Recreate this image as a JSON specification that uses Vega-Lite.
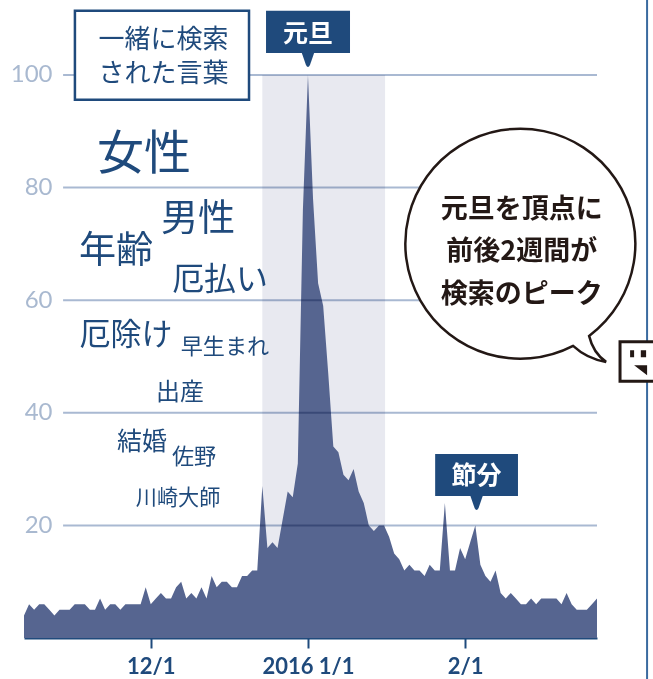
{
  "$schema": "https://vega.github.io/schema/vega-lite/v6.json",
  "width": 573,
  "height": 638,
  "autosize": "none",
  "padding": {"left": 24, "top": 0, "right": 56, "bottom": 41},
  "background": "white",
  "config": {
    "view": {"stroke": null},
    "text": {"font": "Noto Sans CJK JP"}
  },
  "datasets": {
    "trend": [
      {"date":"2015-11-06","score":4},{"date":"2015-11-07","score":6},{"date":"2015-11-08","score":5},{"date":"2015-11-09","score":6},{"date":"2015-11-10","score":6},
      {"date":"2015-11-11","score":5},{"date":"2015-11-12","score":4},{"date":"2015-11-13","score":5},{"date":"2015-11-14","score":5},{"date":"2015-11-15","score":5},
      {"date":"2015-11-16","score":6},{"date":"2015-11-17","score":6},{"date":"2015-11-18","score":6},{"date":"2015-11-19","score":5},{"date":"2015-11-20","score":5},
      {"date":"2015-11-21","score":7},{"date":"2015-11-22","score":5},{"date":"2015-11-23","score":6},{"date":"2015-11-24","score":6},{"date":"2015-11-25","score":5},
      {"date":"2015-11-26","score":6},{"date":"2015-11-27","score":6},{"date":"2015-11-28","score":6},{"date":"2015-11-29","score":6},{"date":"2015-11-30","score":9},
      {"date":"2015-12-01","score":6},{"date":"2015-12-02","score":7},{"date":"2015-12-03","score":8},{"date":"2015-12-04","score":7},{"date":"2015-12-05","score":7},
      {"date":"2015-12-06","score":9},{"date":"2015-12-07","score":10},{"date":"2015-12-08","score":7},{"date":"2015-12-09","score":8},{"date":"2015-12-10","score":7},
      {"date":"2015-12-11","score":9},{"date":"2015-12-12","score":7},{"date":"2015-12-13","score":11},{"date":"2015-12-14","score":9},{"date":"2015-12-15","score":10},
      {"date":"2015-12-16","score":10},{"date":"2015-12-17","score":9},{"date":"2015-12-18","score":9},{"date":"2015-12-19","score":11},{"date":"2015-12-20","score":11},
      {"date":"2015-12-21","score":12},{"date":"2015-12-22","score":12},{"date":"2015-12-23","score":27},{"date":"2015-12-24","score":16},{"date":"2015-12-25","score":17},
      {"date":"2015-12-26","score":16},{"date":"2015-12-27","score":21},{"date":"2015-12-28","score":26},{"date":"2015-12-29","score":25},{"date":"2015-12-30","score":31},
      {"date":"2015-12-31","score":76},{"date":"2016-01-01","score":100},{"date":"2016-01-02","score":78},{"date":"2016-01-03","score":63},{"date":"2016-01-04","score":59},
      {"date":"2016-01-05","score":47},{"date":"2016-01-06","score":34},{"date":"2016-01-07","score":33},{"date":"2016-01-08","score":29},{"date":"2016-01-09","score":28},
      {"date":"2016-01-10","score":30},{"date":"2016-01-11","score":26},{"date":"2016-01-12","score":24},{"date":"2016-01-13","score":20},{"date":"2016-01-14","score":19},
      {"date":"2016-01-15","score":20},{"date":"2016-01-16","score":20},{"date":"2016-01-17","score":18},{"date":"2016-01-18","score":15},{"date":"2016-01-19","score":14},
      {"date":"2016-01-20","score":12},{"date":"2016-01-21","score":13},{"date":"2016-01-22","score":12},{"date":"2016-01-23","score":12},{"date":"2016-01-24","score":11},
      {"date":"2016-01-25","score":13},{"date":"2016-01-26","score":12},{"date":"2016-01-27","score":12},{"date":"2016-01-28","score":24},{"date":"2016-01-29","score":12},
      {"date":"2016-01-30","score":12},{"date":"2016-01-31","score":16},{"date":"2016-02-01","score":14},{"date":"2016-02-02","score":17},{"date":"2016-02-03","score":20},
      {"date":"2016-02-04","score":13},{"date":"2016-02-05","score":11},{"date":"2016-02-06","score":10},{"date":"2016-02-07","score":12},{"date":"2016-02-08","score":8},
      {"date":"2016-02-09","score":7},{"date":"2016-02-10","score":8},{"date":"2016-02-11","score":7},{"date":"2016-02-12","score":6},{"date":"2016-02-13","score":6},
      {"date":"2016-02-14","score":7},{"date":"2016-02-15","score":6},{"date":"2016-02-16","score":7},{"date":"2016-02-17","score":7},{"date":"2016-02-18","score":7},
      {"date":"2016-02-19","score":7},{"date":"2016-02-20","score":6},{"date":"2016-02-21","score":8},{"date":"2016-02-22","score":6},{"date":"2016-02-23","score":5},
      {"date":"2016-02-24","score":5},{"date":"2016-02-25","score":5},{"date":"2016-02-26","score":6},{"date":"2016-02-27","score":7}
    ],
    "gridlines": [
      {"level":20,"from":"2015-11-13T17:00:00Z","to":"2016-02-27T00:00:00Z"},
      {"level":40,"from":"2015-11-13T17:00:00Z","to":"2016-02-27T00:00:00Z"},
      {"level":60,"from":"2015-11-13T17:00:00Z","to":"2016-02-27T00:00:00Z"},
      {"level":80,"from":"2015-11-13T17:00:00Z","to":"2016-02-27T00:00:00Z"},
      {"level":100,"from":"2015-11-13T17:00:00Z","to":"2016-02-27T00:00:00Z"}
    ],
    "words": [
      {"word":"女性","at":"2015-11-29T16:00:00Z","y":85.8,"weight":100},
      {"word":"男性","at":"2015-12-10T08:00:00Z","y":74.2,"weight":79},
      {"word":"年齢","at":"2015-11-24T04:00:00Z","y":68.5,"weight":79},
      {"word":"厄払い","at":"2015-12-14T16:00:00Z","y":63.5,"weight":68},
      {"word":"厄除け","at":"2015-11-26T03:00:00Z","y":53.6,"weight":66},
      {"word":"早生まれ","at":"2015-12-15T15:00:00Z","y":51.6,"weight":47},
      {"word":"出産","at":"2015-12-06T18:00:00Z","y":43.6,"weight":51},
      {"word":"結婚","at":"2015-11-29T06:00:00Z","y":34.7,"weight":53},
      {"word":"佐野","at":"2015-12-09T13:00:00Z","y":32.2,"weight":47},
      {"word":"川崎大師","at":"2015-12-06T09:00:00Z","y":24.7,"weight":45}
    ],
    "flags": [
      {"label":"元旦","left":"2015-12-23T17:30:00Z","right":"2016-01-09T07:00:00Z","top":111.4,"bottom":103.9,"at":"2016-01-01T00:00:00Z","textY":107.3},
      {"label":"節分","left":"2016-01-26T02:00:00Z","right":"2016-02-11T10:00:00Z","top":32.7,"bottom":25.2,"at":"2016-02-03T06:00:00Z","textY":28.7}
    ],
    "boxTitle": [
      {"line":"一緒に検索","at":"2015-12-03T12:00:00Z","y":106.3},
      {"line":"された言葉","at":"2015-12-03T12:00:00Z","y":100.1}
    ],
    "bubbleText": [
      {"line":"元旦を頂点に","at":"2016-02-12T04:00:00Z","y":76.1},
      {"line":"前後2週間が","at":"2016-02-12T04:00:00Z","y":68.6},
      {"line":"検索のピーク","at":"2016-02-12T04:00:00Z","y":61.0}
    ]
  },
  "layer": [
    {
      "description": "Page rule on the right",
      "data": {"values": [{"at":"2016-03-07T21:00:00Z","top":113.4,"bottom":-7.4}]},
      "mark": {"type": "rule", "color": "#3a6a9f", "strokeWidth": 2},
      "encoding": {
        "x": {"field": "at", "type": "temporal", "scale": {"type": "utc"}},
        "y": {"field": "top", "type": "quantitative"},
        "y2": {"field": "bottom"}
      }
    },
    {
      "description": "New Year search window",
      "data": {"values": [{"start":"2015-12-23T00:00:00Z","end":"2016-01-16T05:00:00Z","low":0,"high":100}]},
      "mark": {"type": "rect", "color": "#e8e9f0"},
      "encoding": {
        "x": {"field": "start", "type": "temporal", "scale": {"type": "utc"}},
        "x2": {"field": "end"},
        "y": {"field": "low", "type": "quantitative"},
        "y2": {"field": "high"}
      }
    },
    {
      "description": "Daily search interest",
      "data": {"name": "trend"},
      "mark": {"type": "area", "color": "#566590", "interpolate": "linear"},
      "encoding": {
        "x": {
          "field": "date",
          "type": "temporal",
          "scale": {
            "type": "utc",
            "domain": [
              {"year": 2015, "month": 11, "date": 6, "utc": true},
              {"year": 2016, "month": 2, "date": 27, "utc": true}
            ]
          },
          "axis": {
            "title": null,
            "grid": false,
            "values": [
              {"year": 2015, "month": 12, "date": 1, "utc": true},
              {"year": 2016, "month": 1, "date": 1, "utc": true},
              {"year": 2016, "month": 2, "date": 1, "utc": true}
            ],
            "labelExpr": "utcmonth(datum.value) == 0 ? '2016 1/1' : (utcmonth(datum.value) + 1) + '/1'",
            "domainColor": "#1f4a7c",
            "domainWidth": 2,
            "tickColor": "#1f4a7c",
            "tickWidth": 2,
            "tickSize": 10,
            "labelColor": "#1f4a7c",
            "labelFont": "Lato",
            "labelFontWeight": "bold",
            "labelFontSize": 22,
            "labelPadding": 8,
            "labelOverlap": false
          }
        },
        "y": {
          "field": "score",
          "type": "quantitative",
          "scale": {"domain": [0, 113.32], "nice": false, "zero": false},
          "axis": {
            "title": null,
            "grid": false,
            "domain": false,
            "ticks": false,
            "values": [20, 40, 60, 80, 100],
            "labelColor": "#a9b9d0",
            "labelFont": "Lato",
            "labelFontSize": 24,
            "labelPadding": -28
          }
        }
      }
    },
    {
      "description": "Horizontal guide lines, darkened where they cross the area",
      "data": {"name": "gridlines"},
      "mark": {"type": "rule", "color": "#a9b9d2", "strokeWidth": 2, "blend": "multiply"},
      "encoding": {
        "x": {"field": "from", "type": "temporal", "scale": {"type": "utc"}},
        "x2": {"field": "to"},
        "y": {"field": "level", "type": "quantitative"}
      }
    },
    {
      "description": "Frame of the related-words heading",
      "data": {"values": [{"left":"2015-11-16T01:00:00Z","right":"2015-12-20T09:00:00Z","top":111.4,"bottom":95.6}]},
      "mark": {"type": "rect", "fill": "white", "stroke": "#1f4a7c", "strokeWidth": 2.5},
      "encoding": {
        "x": {"field": "left", "type": "temporal", "scale": {"type": "utc"}},
        "x2": {"field": "right"},
        "y": {"field": "top", "type": "quantitative"},
        "y2": {"field": "bottom"}
      }
    },
    {
      "data": {"name": "boxTitle"},
      "mark": {"type": "text", "color": "#1f4a7c", "fontSize": 26, "align": "center", "baseline": "middle"},
      "encoding": {
        "x": {"field": "at", "type": "temporal", "scale": {"type": "utc"}},
        "y": {"field": "y", "type": "quantitative"},
        "text": {"field": "line"}
      }
    },
    {
      "description": "Related search words, sized by how often they occur",
      "data": {"name": "words"},
      "mark": {"type": "text", "color": "#1f4a7c", "align": "center", "baseline": "middle"},
      "encoding": {
        "x": {"field": "at", "type": "temporal", "scale": {"type": "utc"}},
        "y": {"field": "y", "type": "quantitative"},
        "text": {"field": "word"},
        "size": {"field": "weight", "type": "quantitative", "legend": null, "scale": {"domain": [0, 100], "range": [0, 47]}}
      }
    },
    {
      "description": "Dark flags naming the two peaks, each with a rounded pointer below its box",
      "data": {"name": "flags"},
      "layer": [
        {
          "mark": {"type": "point", "filled": true, "opacity": 1, "color": "#1f4a7c", "size": 4, "shape": "M-6.5,-1 L6.5,-1 L2,12 Q0,16 -2,12 Z"},
          "encoding": {
            "x": {"field": "at", "type": "temporal", "scale": {"type": "utc"}},
            "y": {"field": "bottom", "type": "quantitative"}
          }
        },
        {
          "mark": {"type": "rect", "color": "#1f4a7c"},
          "encoding": {
            "x": {"field": "left", "type": "temporal", "scale": {"type": "utc"}},
            "x2": {"field": "right"},
            "y": {"field": "top", "type": "quantitative"},
            "y2": {"field": "bottom"}
          }
        },
        {
          "mark": {"type": "text", "color": "white", "fontWeight": "bold", "fontSize": 25, "align": "center", "baseline": "middle"},
          "encoding": {
            "x": {"field": "at", "type": "temporal", "scale": {"type": "utc"}},
            "y": {"field": "textY", "type": "quantitative"},
            "text": {"field": "label"}
          }
        }
      ]
    },
    {
      "description": "Speech bubble: a circle with a curled tail, path units are pixels at size 4",
      "data": {"values": [{"at":"2016-02-11T20:00:00Z","y":70.0}]},
      "mark": {
        "type": "point",
        "filled": false,
        "opacity": 1,
        "fill": "white",
        "fillOpacity": 1,
        "stroke": "#231815",
        "strokeWidth": 2.5,
        "size": 4,
        "shape": "M69,92 A115,115 0 1 0 53,102 Q67,115 86,118 Q73,109 69,92 Z"
      },
      "encoding": {
        "x": {"field": "at", "type": "temporal", "scale": {"type": "utc"}},
        "y": {"field": "y", "type": "quantitative"}
      }
    },
    {
      "data": {"name": "bubbleText"},
      "mark": {"type": "text", "color": "#231815", "fontWeight": "bold", "fontSize": 27, "align": "center", "baseline": "middle"},
      "encoding": {
        "x": {"field": "at", "type": "temporal", "scale": {"type": "utc"}},
        "y": {"field": "y", "type": "quantitative"},
        "text": {"field": "line"}
      }
    },
    {
      "description": "Page-corner icon frame",
      "data": {"values": [{"left":"2016-03-02T13:00:00Z","right":"2016-03-12T00:00:00Z","top":52.6,"bottom":45.6}]},
      "mark": {"type": "rect", "fill": "white", "stroke": "#231815", "strokeWidth": 3},
      "encoding": {
        "x": {"field": "left", "type": "temporal", "scale": {"type": "utc"}},
        "x2": {"field": "right"},
        "y": {"field": "top", "type": "quantitative"},
        "y2": {"field": "bottom"}
      }
    },
    {
      "description": "Page-corner icon glyph",
      "data": {"values": [{"at":"2016-03-06T12:00:00Z","y":49.0}]},
      "mark": {
        "type": "point",
        "filled": true,
        "opacity": 1,
        "color": "#231815",
        "size": 4,
        "shape": "M-10,-12 H-6 V-5 H-10 Z M0.7,-12 H6 V-5 H0.7 Z M-6,3 H7 V13 Z"
      },
      "encoding": {
        "x": {"field": "at", "type": "temporal", "scale": {"type": "utc"}},
        "y": {"field": "y", "type": "quantitative"}
      }
    }
  ]
}
